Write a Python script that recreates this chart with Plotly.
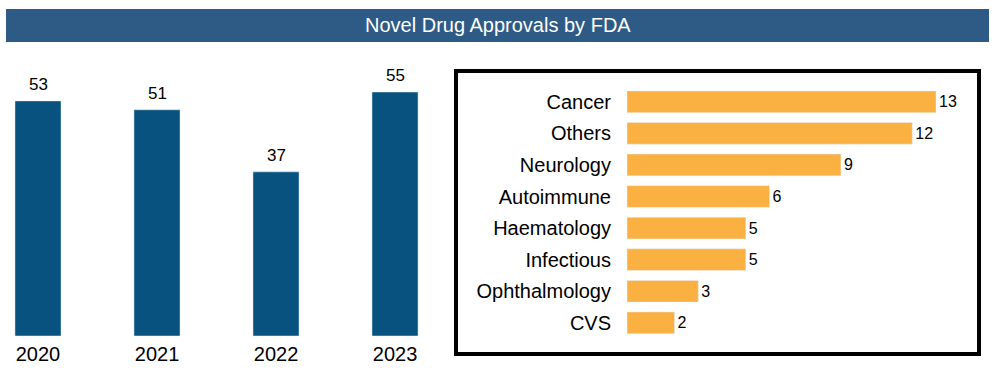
import plotly.graph_objects as go

# ---- data ----
title_text = "Novel Drug Approvals by FDA"
years = ["2020", "2021", "2022", "2023"]
approvals = [53, 51, 37, 55]
areas = ["Cancer", "Others", "Neurology", "Autoimmune", "Haematology",
         "Infectious", "Ophthalmology", "CVS"]
area_counts = [13, 12, 9, 6, 5, 5, 3, 2]

W, H = 995, 370
FONT = "Liberation Sans, Arial, Helvetica, sans-serif"
BLUE = "#07527E"
TITLE_BLUE = "#2E5B86"
ORANGE = "#FBB042"


def px_x(p):
    return p / W


def px_y(p):
    return (H - p) / H


fig = go.Figure()

fig.add_trace(go.Bar(
    x=years, y=approvals, marker_color=BLUE, width=0.387,
    xaxis="x", yaxis="y", hoverinfo="skip", showlegend=False,
))

fig.add_trace(go.Bar(
    x=area_counts, y=areas, orientation="h", marker_color=ORANGE, width=0.687,
    text=[str(v) for v in area_counts], textposition="outside",
    textfont=dict(size=16, color="black", family=FONT), cliponaxis=False,
    xaxis="x2", yaxis="y2", hoverinfo="skip", showlegend=False,
))

annotations = []
for i, v in enumerate(approvals):
    annotations.append(dict(
        x=i, y=v, xref="x", yref="y", text=str(v), showarrow=False,
        yanchor="bottom", yshift=5, font=dict(size=17, color="black", family=FONT),
    ))

annotations.append(dict(
    x=px_x(497.5), y=px_y(25.5), xref="paper", yref="paper", text=title_text,
    showarrow=False, xanchor="center", yanchor="middle",
    font=dict(size=20, color="white", family=FONT),
))

shapes = [
    dict(type="rect", xref="paper", yref="paper",
         x0=px_x(6), x1=px_x(989), y0=px_y(42), y1=px_y(9),
         fillcolor=TITLE_BLUE, line=dict(width=0), layer="below"),
    dict(type="rect", xref="paper", yref="paper",
         x0=px_x(456), x1=px_x(979), y0=px_y(354), y1=px_y(71),
         fillcolor="rgba(0,0,0,0)", line=dict(width=4, color="black")),
]

fig.update_layout(
    width=W, height=H,
    margin=dict(l=0, r=0, t=0, b=0),
    paper_bgcolor="white", plot_bgcolor="white",
    font=dict(family=FONT, color="black"),
    bargap=0.3,
    xaxis=dict(domain=[px_x(10), px_x(430)], type="category",
               range=[-0.2353, 3.294], showgrid=False, zeroline=False,
               showline=False, ticks="", ticklabelstandoff=4,
               tickfont=dict(size=20, color="black", family=FONT), fixedrange=True),
    yaxis=dict(domain=[px_y(336), px_y(60)], range=[0, 62.22], visible=False,
               showgrid=False, zeroline=False, fixedrange=True),
    xaxis2=dict(domain=[px_x(627), px_x(975)], range=[0, 14.64], visible=False,
                showgrid=False, zeroline=False, anchor="y2", fixedrange=True),
    yaxis2=dict(domain=[px_y(338.6), px_y(86.0)], type="category",
                categoryorder="array", categoryarray=areas,
                range=[7.5, -0.5], anchor="x2", showgrid=False, zeroline=False,
                showline=False, ticks="", ticklabelstandoff=15,
                tickfont=dict(size=20, color="black", family=FONT), fixedrange=True),
    annotations=annotations,
    shapes=shapes,
)

fig.write_html(
    "out.html",
    config={"displayModeBar": False},
    post_script="document.body.style.margin='0';document.body.style.overflow='hidden';",
)
